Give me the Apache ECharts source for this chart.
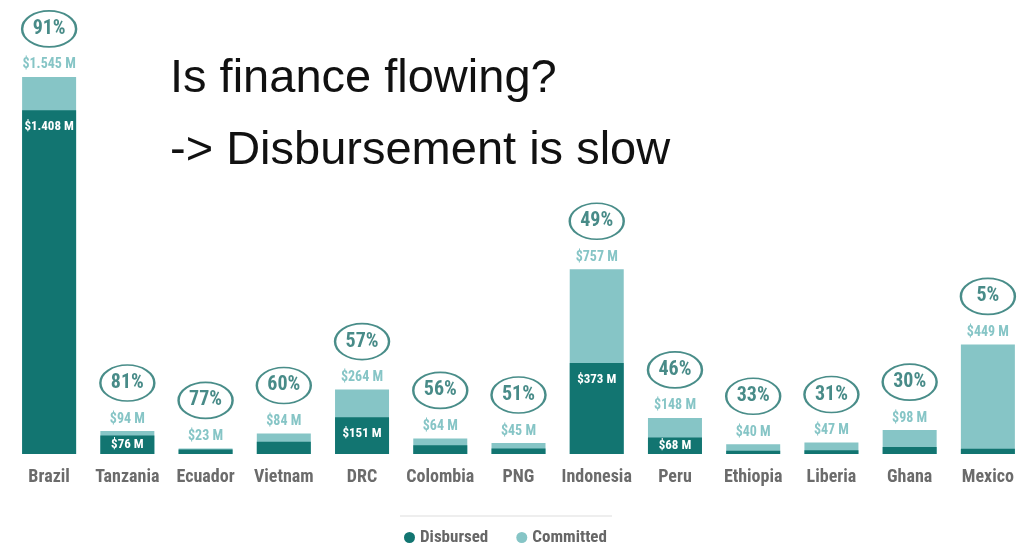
<!DOCTYPE html>
<html>
<head>
<meta charset="utf-8">
<style>
html,body{margin:0;padding:0;background:#fff;}
#chart{width:1028px;height:549px;}
</style>
<script src="https://cdn.jsdelivr.net/npm/echarts@6/dist/echarts.min.js"></script>
</head>
<body>
<div id="chart"></div>
<script>
var categories = ['Brazil','Tanzania','Ecuador','Vietnam','DRC','Colombia','PNG','Indonesia','Peru','Ethiopia','Liberia','Ghana','Mexico'];
var committed = [1545, 94, 23, 84, 264, 64, 45, 757, 148, 40, 47, 98, 449];
var disbursed = [1408, 76, 18, 50, 151, 36, 23, 373, 68, 13, 15, 29, 22];
var percents = ['91%','81%','77%','60%','57%','56%','51%','49%','46%','33%','31%','30%','5%'];
var disbursedLabelShown = [true, true, false, false, true, false, false, true, true, false, false, false, false];

var DARK = '#127571';
var LIGHT = '#86c5c6';
var COND = "'Roboto Condensed', 'Liberation Sans Narrow', Roboto, sans-serif";

function money(v) {
  var s = String(v);
  if (v >= 1000) s = s.replace(/(\d)(\d{3})$/, '$1.$2');
  return '$' + s + ' M';
}

var disbursedData = disbursed.map(function (v, i) {
  return {
    value: v,
    label: {
      show: disbursedLabelShown[i],
      position: v < 100 ? 'inside' : 'insideTop',
      distance: 10
    }
  };
});

var chart = echarts.init(document.getElementById('chart'));
chart.setOption({
  animation: false,
  backgroundColor: '#ffffff',
  title: [
    {text: 'Is finance flowing?', left: 165, top: 51,
     textStyle: {fontFamily: "'Liberation Sans', Arial, sans-serif", fontSize: 47, fontWeight: 'normal', color: '#111111'}},
    {text: '-> Disbursement is slow', left: 165, top: 123,
     textStyle: {fontFamily: "'Liberation Sans', Arial, sans-serif", fontSize: 47, fontWeight: 'normal', color: '#111111'}}
  ],
  legend: {
    data: ['Disbursed', 'Committed'],
    bottom: -2, left: 399,
    icon: 'circle', itemWidth: 11, itemHeight: 11, itemGap: 28,
    textStyle: {fontFamily: COND, fontWeight: 'bold', fontSize: 17, color: '#666666'}
  },
  graphic: [
    {type: 'line', shape: {x1: 400, y1: 516, x2: 612, y2: 516}, style: {stroke: '#dddddd', lineWidth: 1}}
  ],
  grid: {left: 10, right: 1, top: 0, bottom: 95},
  xAxis: {
    type: 'category', data: categories,
    axisLine: {show: false}, axisTick: {show: false},
    axisLabel: {interval: 0, margin: 14, fontFamily: COND, fontWeight: 'bold', fontSize: 18, color: '#6b6b6b'}
  },
  yAxis: {type: 'value', min: 0, max: 1860, show: false, splitLine: {show: false}},
  series: [
    {
      name: 'Committed', type: 'bar', data: committed, barWidth: 54, barGap: '-100%',
      itemStyle: {color: LIGHT},
      label: {show: true, position: 'top', distance: 5,
        formatter: function (p) { return money(p.value); },
        fontFamily: COND, fontWeight: 'bold', fontSize: 14, color: LIGHT}
    },
    {
      name: 'Disbursed', type: 'bar', data: disbursedData, barWidth: 54,
      itemStyle: {color: DARK},
      label: {show: true,
        formatter: function (p) { return money(p.value); },
        fontFamily: COND, fontWeight: 'bold', fontSize: 13, color: '#ffffff'}
    },
    {
      name: 'pct', type: 'scatter', data: committed, z: 5,
      symbol: 'circle', symbolSize: [54, 36], symbolOffset: [0, -48],
      itemStyle: {color: '#ffffff', borderColor: '#1b706c', borderWidth: 2},
      label: {show: true, position: 'inside',
        formatter: function (p) { return percents[p.dataIndex]; },
        fontFamily: COND, fontWeight: 'bold', fontSize: 20, color: '#1a6e6a'},
      emphasis: {disabled: true},
      silent: true
    }
  ]
});
</script>
</body>
</html>
